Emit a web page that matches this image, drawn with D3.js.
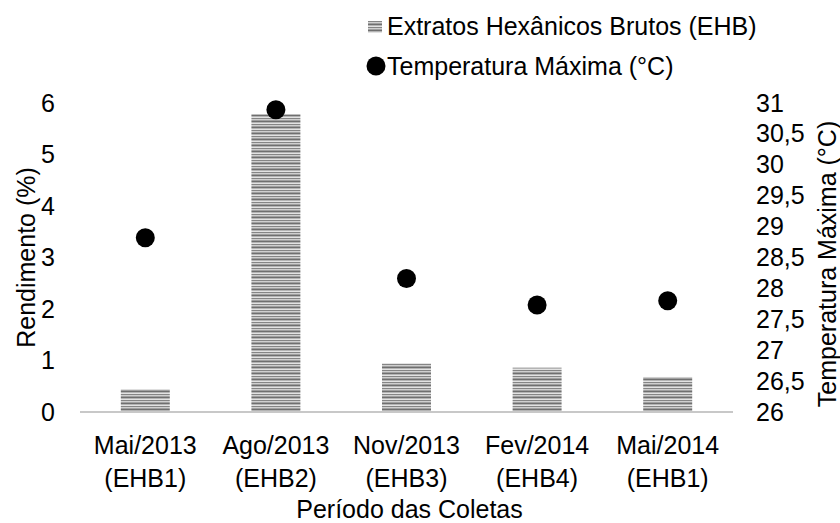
<!DOCTYPE html>
<html lang="pt">
<head>
<meta charset="utf-8">
<title>Rendimento e Temperatura</title>
<script src="https://d3js.org/d3.v7.min.js"></script>
<style>
body{ margin:0; background:#fff; }
svg text{ font-family: "Liberation Sans", Arial, sans-serif; fill:#000; font-size:25px; }
</style>
</head>
<body>
<div id="chart"></div>
<script>
// data
var periods = ['Mai/2013', 'Ago/2013', 'Nov/2013', 'Fev/2014', 'Mai/2014'];
var extracts = ['(EHB1)', '(EHB2)', '(EHB3)', '(EHB4)', '(EHB1)'];
var rendimento = [0.44, 5.78, 0.95, 0.86, 0.68];
var tempMax = [28.82, 30.89, 28.16, 27.73, 27.8];
var leftTicks = [0, 1, 2, 3, 4, 5, 6];
var rightTicks = [26, 26.5, 27, 27.5, 28, 28.5, 29, 29.5, 30, 30.5, 31];

var W = 840, H = 523;
var margin = { top: 103, right: 107, bottom: 111, left: 80 };
var width = W - margin.left - margin.right, height = H - margin.top - margin.bottom;

var svg = d3.select('#chart').append('svg')
  .attr('width', W).attr('height', H);

/* striped fill for the bars */
var pat = svg.append('defs').append('pattern')
  .attr('id', 'stripes')
  .attr('patternUnits', 'userSpaceOnUse')
  .attr('width', 8).attr('height', 6);
['#6f6f6f', '#b4b4b4', '#e2e2e2', '#858585', '#cfcfcf', '#a0a0a0'].forEach(function(c, i) {
  pat.append('rect').attr('x', 0).attr('y', i).attr('width', 8).attr('height', 1).attr('fill', c);
});

var g = svg.append('g')
  .attr('transform', 'translate(' + margin.left + ',' + margin.top + ')');

var x = d3.scaleBand().domain(periods.map(function(d, i) { return i; }))
  .range([0, width]).paddingInner(0.625).paddingOuter(0.3125);
var yL = d3.scaleLinear().domain([0, 6]).range([height, 0]);
var yR = d3.scaleLinear().domain([26, 31]).range([height, 0]);

g.selectAll('rect.bar')
  .data(rendimento)
  .enter().append('rect')
  .attr('class', 'bar')
  .attr('x', function(d, i) { return x(i); })
  .attr('width', x.bandwidth())
  .attr('y', function(d) { return yL(d); })
  .attr('height', function(d) { return height - yL(d); })
  .attr('fill', 'url(#stripes)');

/* baseline */
g.append('line')
  .attr('x1', 0).attr('x2', width)
  .attr('y1', height).attr('y2', height)
  .attr('stroke', '#c8c8c8').attr('stroke-width', 2);

g.selectAll('circle.dot')
  .data(tempMax)
  .enter().append('circle')
  .attr('class', 'dot')
  .attr('cx', function(d, i) { return x(i) + x.bandwidth() / 2; })
  .attr('cy', function(d) { return yR(d); })
  .attr('r', 9.5)
  .attr('fill', '#000');

/* left axis */
var axL = g.append('g')
  .attr('transform', 'translate(-25,0)')
  .call(d3.axisLeft(yL).tickValues(leftTicks).tickSize(0).tickFormat(d3.format('d')));
axL.select('.domain').remove();
axL.selectAll('text').style('font-size', '25px').attr('x', 0);

/* right axis */
var fmt = function(d) { return String(d).replace('.', ','); };
var axR = g.append('g')
  .attr('transform', 'translate(' + (width + 23) + ',0)')
  .call(d3.axisRight(yR).tickValues(rightTicks).tickSize(0).tickFormat(fmt));
axR.select('.domain').remove();
axR.selectAll('text').style('font-size', '25px').attr('x', 0);

/* category labels */
var cat = g.append('g').attr('transform', 'translate(0,' + height + ')');
cat.selectAll('text.p')
  .data(periods)
  .enter().append('text')
  .attr('x', function(d, i) { return x(i) + x.bandwidth() / 2; })
  .attr('y', 42)
  .attr('text-anchor', 'middle')
  .text(function(d) { return d; });
cat.selectAll('text.e')
  .data(extracts)
  .enter().append('text')
  .attr('x', function(d, i) { return x(i) + x.bandwidth() / 2; })
  .attr('y', 75)
  .attr('text-anchor', 'middle')
  .text(function(d) { return d; });

/* axis titles */
svg.append('text')
  .attr('x', margin.left + width / 2 + 3).attr('y', 518)
  .attr('text-anchor', 'middle')
  .text('Período das Coletas');

svg.append('text')
  .attr('transform', 'translate(35,' + (margin.top + height / 2) + ') rotate(-90)')
  .attr('text-anchor', 'middle')
  .text('Rendimento (%)');

svg.append('text')
  .attr('transform', 'translate(836,264) rotate(-90)')
  .attr('text-anchor', 'middle')
  .text('Temperatura Máxima (°C)');

/* legend */
var leg = svg.append('g');
leg.append('rect')
  .attr('x', 368).attr('y', 21).attr('width', 14).attr('height', 12)
  .attr('fill', 'url(#stripes)');
leg.append('text')
  .attr('x', 387).attr('y', 35)
  .text('Extratos Hexânicos Brutos (EHB)');
leg.append('circle')
  .attr('cx', 376).attr('cy', 66).attr('r', 9.5)
  .attr('fill', '#000');
leg.append('text')
  .attr('x', 387).attr('y', 75)
  .text('Temperatura Máxima (°C)');
</script>
</body>
</html>
